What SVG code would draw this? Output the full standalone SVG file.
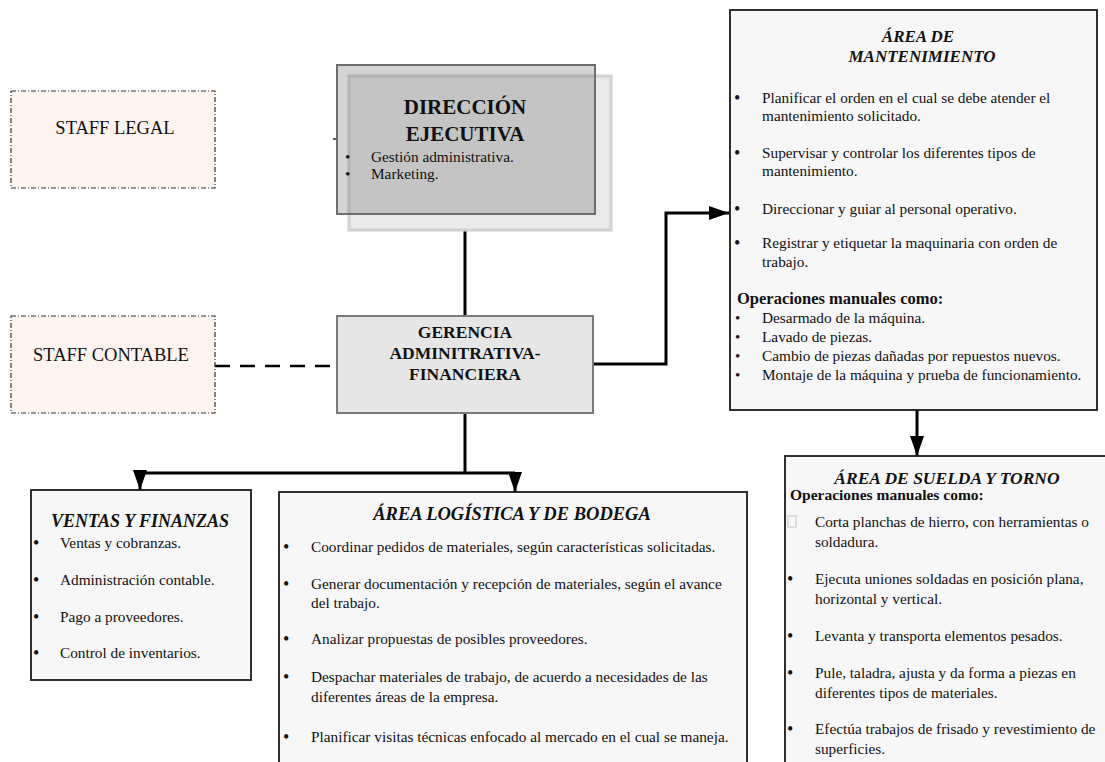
<svg xmlns="http://www.w3.org/2000/svg" width="1105" height="762" viewBox="0 0 1105 762">
<defs>
<style>
text{font-family:"Liberation Serif","Times New Roman",serif;fill:#111}
.t{font-size:15.3px}
.bu{font-size:18px}
.bs{font-size:15px}
.h{font-weight:bold;text-anchor:middle}
.hi{font-weight:bold;font-style:italic;text-anchor:middle}
.ob{font-weight:bold}
.staff{fill:#fdf4ef;stroke:#333;stroke-width:1.2;stroke-dasharray:5 2 1 2}
.area{fill:#f7f7f7;stroke:#1a1a1a;stroke-width:1.8}
.conn{fill:none;stroke:#000;stroke-width:3}
</style>
<marker id="ah" viewBox="0 0 20 14" refX="20" refY="7" markerWidth="20" markerHeight="14" markerUnits="userSpaceOnUse" orient="auto">
<path d="M0,0 L20,7 L0,14 z" fill="#000"/>
</marker>
</defs>
<rect width="1105" height="762" fill="#fff"/>

<g id="connectors">
<line class="conn" x1="465" y1="214" x2="465" y2="316"/>
<line x1="215" y1="366" x2="337" y2="366" stroke="#000" stroke-width="2.5" stroke-dasharray="15 10" fill="none"/>
<polyline class="conn" points="465,413 465,473"/>
<polyline class="conn" points="139,473 515,473"/>
<line class="conn" x1="140" y1="472" x2="140" y2="490" marker-end="url(#ah)"/>
<line class="conn" x1="515" y1="472" x2="515" y2="492" marker-end="url(#ah)"/>
<polyline class="conn" points="593,364 666,364 666,213 729,213" marker-end="url(#ah)"/>
<line class="conn" x1="917" y1="410" x2="917" y2="456" marker-end="url(#ah)"/>
<line x1="333" y1="139" x2="337" y2="139" stroke="#333" stroke-width="1.5"/>
</g>

<g id="staff-legal">
<rect class="staff" x="11" y="91" width="204" height="97"/>
<text x="115" y="134" text-anchor="middle" style="font-size:18.5px">STAFF LEGAL</text>
</g>

<g id="staff-contable">
<rect class="staff" x="11" y="316" width="204" height="97"/>
<text x="111" y="361" text-anchor="middle" style="font-size:18.5px">STAFF CONTABLE</text>
</g>

<g id="direccion-ejecutiva">
<rect x="349" y="76" width="262" height="154" fill="#e9e9e9" stroke="#d2d2d2" stroke-width="3"/>
<rect x="337" y="65" width="258" height="149" fill="#616161" fill-opacity="0.27" stroke="#6e6e6e" stroke-width="2"/>
<text class="h" x="465" y="114" style="font-size:21px">DIRECCIÓN</text>
<text class="h" x="465" y="141" style="font-size:21px">EJECUTIVA</text>
<text class="bs" x="345" y="162">•</text>
<text class="t" x="371" y="162">Gestión administrativa.</text>
<text class="bs" x="345" y="179">•</text>
<text class="t" x="371" y="179">Marketing.</text>
</g>

<g id="gerencia">
<rect x="337" y="316" width="256" height="97" fill="#e6e6e6" stroke="#7a7a7a" stroke-width="2"/>
<text class="h" x="465" y="338" style="font-size:17.5px">GERENCIA</text>
<text class="h" x="465" y="359" style="font-size:17.5px">ADMINITRATIVA-</text>
<text class="h" x="465" y="380" style="font-size:17.5px">FINANCIERA</text>
</g>

<g id="area-mantenimiento">
<rect class="area" x="730" y="10" width="367" height="400"/>
<text class="hi" x="918" y="42" style="font-size:17px">ÁREA DE</text>
<text class="hi" x="922" y="62" style="font-size:17px">MANTENIMIENTO</text>
<text class="bu" x="734" y="104">•</text>
<text class="t" x="762" y="103">Planificar el orden en el cual se debe atender el</text>
<text class="t" x="762" y="121">mantenimiento solicitado.</text>
<text class="bu" x="734" y="159">•</text>
<text class="t" x="762" y="158">Supervisar y controlar los diferentes tipos de</text>
<text class="t" x="762" y="176">mantenimiento.</text>
<text class="bu" x="734" y="215">•</text>
<text class="t" x="762" y="214">Direccionar y guiar al personal operativo.</text>
<text class="bu" x="734" y="249">•</text>
<text class="t" x="762" y="248">Registrar y etiquetar la maquinaria con orden de</text>
<text class="t" x="762" y="267">trabajo.</text>
<text class="ob" x="737" y="304" style="font-size:16.5px">Operaciones manuales como:</text>
<text class="bs" x="735" y="323">•</text>
<text class="t" x="762" y="323">Desarmado de la máquina.</text>
<text class="bs" x="735" y="342">•</text>
<text class="t" x="762" y="342">Lavado de piezas.</text>
<text class="bs" x="735" y="361">•</text>
<text class="t" x="762" y="361">Cambio de piezas dañadas por repuestos nuevos.</text>
<text class="bs" x="735" y="380">•</text>
<text class="t" x="762" y="380">Montaje de la máquina y prueba de funcionamiento.</text>
</g>

<g id="area-suelda-torno">
<rect class="area" x="785" y="456" width="330" height="320"/>
<text class="hi" x="947" y="484" style="font-size:17.5px">ÁREA DE SUELDA Y TORNO</text>
<text class="ob" x="790" y="500" style="font-size:15.5px">Operaciones manuales como:</text>
<rect x="788" y="516" width="8" height="11" fill="none" stroke="#c4c4c4" stroke-width="1"/>
<text class="t" x="815" y="527">Corta planchas de hierro, con herramientas o</text>
<text class="t" x="815" y="547">soldadura.</text>
<text class="bu" x="787" y="585">•</text>
<text class="t" x="815" y="584">Ejecuta uniones soldadas en posición plana,</text>
<text class="t" x="815" y="604">horizontal y vertical.</text>
<text class="bu" x="787" y="642">•</text>
<text class="t" x="815" y="641">Levanta y transporta elementos pesados.</text>
<text class="bu" x="787" y="679">•</text>
<text class="t" x="815" y="678">Pule, taladra, ajusta y da forma a piezas en</text>
<text class="t" x="815" y="698">diferentes tipos de materiales.</text>
<text class="bu" x="787" y="735">•</text>
<text class="t" x="815" y="734">Efectúa trabajos de frisado y revestimiento de</text>
<text class="t" x="815" y="754">superficies.</text>
</g>

<g id="ventas-finanzas">
<rect class="area" x="31" y="490" width="220" height="190"/>
<text class="hi" x="140" y="527" style="font-size:18px">VENTAS Y FINANZAS</text>
<text class="bu" x="33" y="549">•</text>
<text class="t" x="60" y="548">Ventas y cobranzas.</text>
<text class="bu" x="33" y="586">•</text>
<text class="t" x="60" y="585">Administración contable.</text>
<text class="bu" x="33" y="623">•</text>
<text class="t" x="60" y="622">Pago a proveedores.</text>
<text class="bu" x="33" y="659">•</text>
<text class="t" x="60" y="658">Control de inventarios.</text>
</g>

<g id="area-logistica-bodega">
<rect class="area" x="279" y="492" width="468" height="290"/>
<text class="hi" x="512" y="520" style="font-size:18.5px">ÁREA LOGÍSTICA Y DE BODEGA</text>
<text class="bu" x="283" y="553">•</text>
<text class="t" x="311" y="552">Coordinar pedidos de materiales, según características solicitadas.</text>
<text class="bu" x="283" y="590">•</text>
<text class="t" x="311" y="589">Generar documentación y recepción de materiales, según el avance</text>
<text class="t" x="311" y="608">del trabajo.</text>
<text class="bu" x="283" y="645">•</text>
<text class="t" x="311" y="644">Analizar propuestas de posibles proveedores.</text>
<text class="bu" x="283" y="683">•</text>
<text class="t" x="311" y="682">Despachar materiales de trabajo, de acuerdo a necesidades de las</text>
<text class="t" x="311" y="702">diferentes áreas de la empresa.</text>
<text class="bu" x="283" y="743">•</text>
<text class="t" x="311" y="742">Planificar visitas técnicas enfocado al mercado en el cual se maneja.</text>
</g>
</svg>
